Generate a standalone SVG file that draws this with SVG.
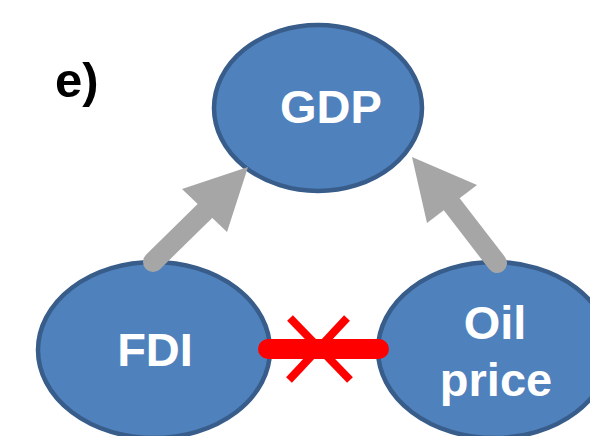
<svg xmlns="http://www.w3.org/2000/svg" width="590" height="436" viewBox="0 0 590 436">
<style>
.node{fill:#4F81BD;stroke:#385D8A;stroke-width:4.5}
.lbl{font-family:"Liberation Sans",Arial,sans-serif;font-weight:bold;fill:#FFFFFF;font-size:47px;text-anchor:middle}
.shaft{stroke:#A6A6A6;stroke-width:20;stroke-linecap:round;fill:none}
.head{fill:#A6A6A6}
.red{stroke:#FF0000;fill:none}
</style>
<text x="55" y="97" font-family="Liberation Sans,Arial,sans-serif" font-weight="bold" font-size="49" fill="#000">e)</text>
<g id="gdp">
<ellipse class="node" cx="318" cy="108" rx="104" ry="83"/>
<text class="lbl" x="331" y="123">GDP</text>
</g>
<g id="fdi">
<ellipse class="node" cx="154" cy="350" rx="116" ry="88"/>
<text class="lbl" x="155" y="366">FDI</text>
</g>
<g id="oil">
<ellipse class="node" cx="494" cy="350" rx="116" ry="88"/>
<text class="lbl" x="495" y="339">Oil</text>
<text class="lbl" x="496" y="396">price</text>
</g>
<g id="connectors">
<line class="shaft" x1="153" y1="262" x2="210" y2="206"/>
<polygon class="head" points="248,167 182,189 227,232"/>
<line class="shaft" x1="497" y1="263" x2="450" y2="202"/>
<polygon class="head" points="412,157 477,185 427,223"/>
<line class="red" x1="268" y1="349" x2="379" y2="349" stroke-width="20" stroke-linecap="round"/>
<line class="red" x1="290" y1="318" x2="350" y2="380" stroke-width="8"/>
<line class="red" x1="347" y1="318" x2="289" y2="380" stroke-width="8"/>
</g>
</svg>
